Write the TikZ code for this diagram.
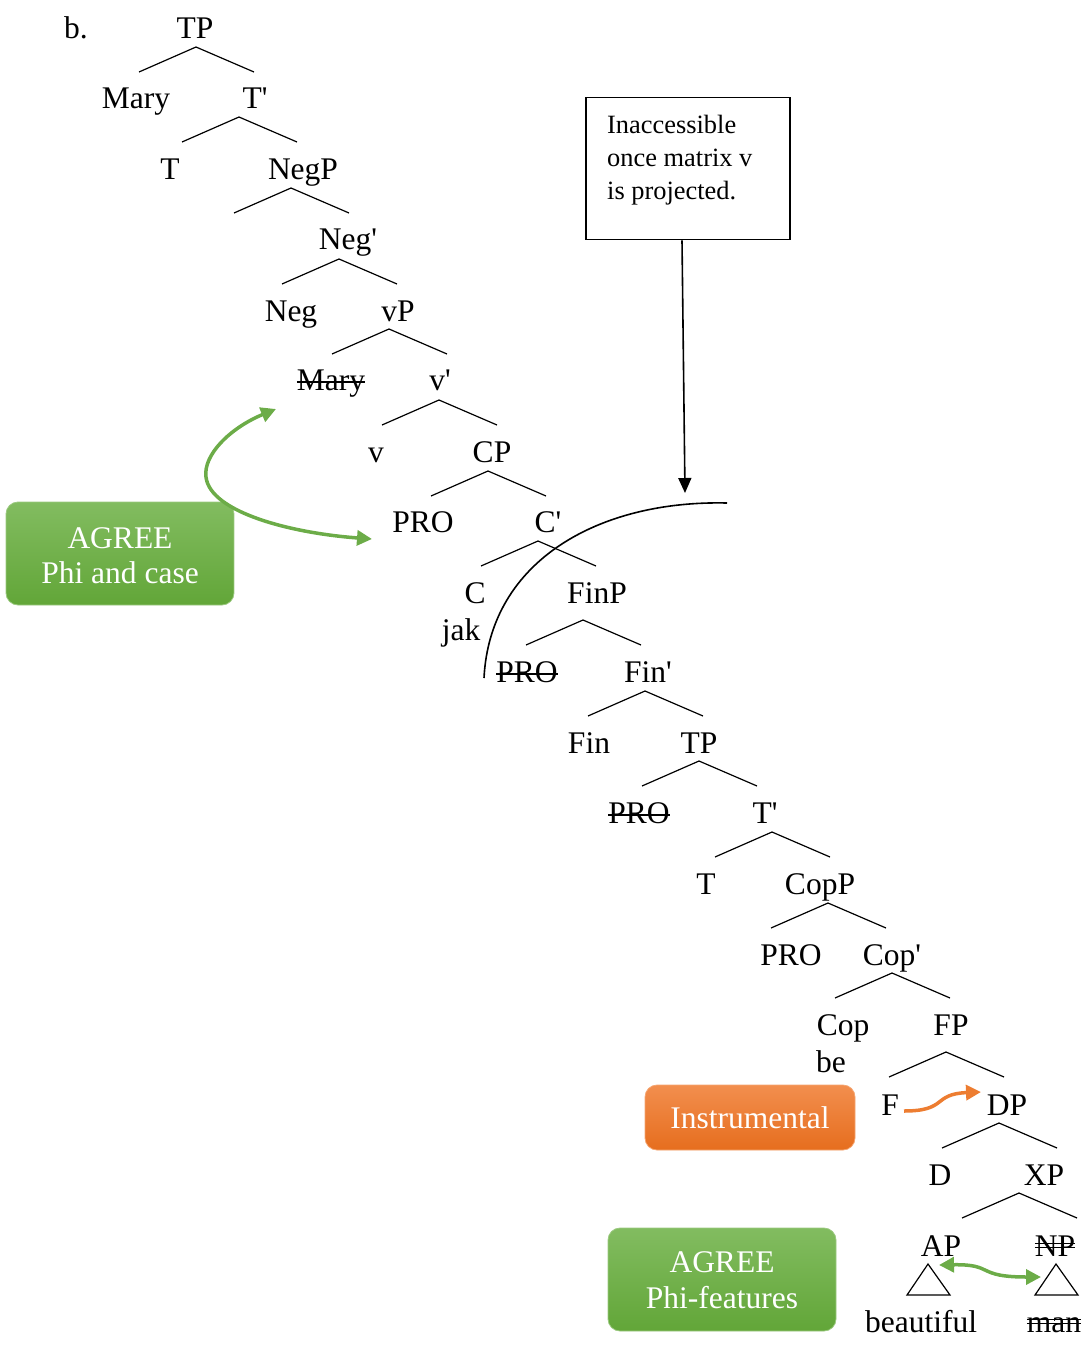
\documentclass[tikz,border=0pt]{standalone}
\usepackage{fontspec}
\setmainfont{Liberation Serif}
\usetikzlibrary{calc,arrows.meta}
\definecolor{gtop}{RGB}{130,188,96}
\definecolor{gbot}{RGB}{98,166,56}
\definecolor{gline}{RGB}{108,172,72}
\definecolor{otop}{RGB}{242,142,78}
\definecolor{obot}{RGB}{230,110,30}
\definecolor{oline}{RGB}{237,125,49}
\newcommand\qs{\textquotesingle}
\newcommand\strk[1]{\setbox0=\hbox{#1}\rlap{\rule[0.22em]{\wd0}{1.6pt}}\box0}
\newcommand\dstrk[1]{\setbox0=\hbox{#1}\rlap{\rule[0.24em]{\wd0}{1.4pt}}\rlap{\rule[0.38em]{\wd0}{1.4pt}}\box0}
\newcommand\brw[3]{\coordinate (#1) at (#2,#3); \draw[branch] ($(#1)+(-57,25)$) -- (#1) -- ($(#1)+(58,25)$);}
\begin{document}
\begin{tikzpicture}[x=1pt,y=-1pt,
  lbl/.style={anchor=base,inner sep=0pt,font=\fontsize{31.5}{36}\selectfont},
  boxtxt/.style={anchor=base,inner sep=0pt,text=white,font=\fontsize{31.5}{36}\selectfont},
  notetxt/.style={anchor=base west,inner sep=0pt,font=\fontsize{26.4}{30}\selectfont},
  branch/.style={line width=1.2pt},
  greenbox/.style={rounded corners=12pt,top color=gtop,bottom color=gbot,draw=gtop!80!white,line width=0.8pt},
  orangebox/.style={rounded corners=12pt,top color=otop,bottom color=obot,draw=otop!80!white,line width=0.8pt},
  garrow/.style={draw=gline,line width=3.5pt,{Triangle[length=15pt,width=15pt]}-{Triangle[length=15pt,width=15pt]}},
  oarrow/.style={draw=oline,line width=3.5pt,-{Triangle[length=15pt,width=15pt]}}]
\useasboundingbox (0,0) rectangle (1080,1349);

% tree labels
\node[lbl] (b) at (76,38) {b.};
\node[lbl] (tp1) at (195,38) {TP};
\node[lbl] (mary1) at (136,108) {Mary};
\node[lbl] (tbar1) at (255,108) {T\qs};
\node[lbl] (t1) at (170,179) {T};
\node[lbl] (negp) at (303,179) {NegP};
\node[lbl] (negbar) at (348,249) {Neg\qs};
\node[lbl] (neg) at (291,321) {Neg};
\node[lbl] (vp) at (398,321) {vP};
\node[lbl] (mary2) at (331,390) {\strk{Mary}};
\node[lbl] (vbar) at (440,390) {v\qs};
\node[lbl] (v) at (376,462) {v};
\node[lbl] (cp) at (492,462) {CP};
\node[lbl] (pro1) at (423,532) {PRO};
\node[lbl] (cbar) at (548,532) {C\qs};
\node[lbl] (c) at (475,603) {C};
\node[lbl] (finp) at (597,603) {FinP};
\node[lbl] (jak) at (461,640) {jak};
\node[lbl] (pro2) at (527,682) {\strk{PRO}};
\node[lbl] (finbar) at (648,682) {Fin\qs};
\node[lbl] (fin) at (589,753) {Fin};
\node[lbl] (tp2) at (699,753) {TP};
\node[lbl] (pro3) at (639,823) {\strk{PRO}};
\node[lbl] (tbar2) at (765,823) {T\qs};
\node[lbl] (t2) at (706,894) {T};
\node[lbl] (copp) at (820,894) {CopP};
\node[lbl] (pro4) at (791,965) {PRO};
\node[lbl] (copbar) at (892,965) {Cop\qs};
\node[lbl] (cop) at (843,1035) {Cop};
\node[lbl] (fp) at (951,1035) {FP};
\node[lbl] (be) at (831,1072) {be};
\node[lbl] (f) at (890,1115) {F};
\node[lbl] (dp) at (1007,1115) {DP};
\node[lbl] (d) at (940,1185) {D};
\node[lbl] (xp) at (1044,1185) {XP};
\node[lbl] (ap) at (941,1256) {AP};
\node[lbl] (np) at (1055,1256) {\dstrk{NP}};
\node[lbl] (beautiful) at (921,1332) {beautiful};
\node[lbl] (man) at (1054,1332) {\dstrk{man}};

% branches
\brw{w1}{196}{47}
\brw{w2}{239}{117}
\brw{w3}{291}{188}
\brw{w4}{339}{259}
\brw{w5}{389}{329}
\brw{w6}{439}{400}
\brw{w7}{488}{471}
\brw{w8}{538}{541}
\brw{w9}{583}{620}
\brw{w10}{645}{691}
\brw{w11}{699}{761}
\brw{w12}{772}{832}
\brw{w13}{828}{903}
\brw{w14}{892}{973}
\brw{w15}{946}{1052}
\brw{w16}{999}{1123}
\brw{w17}{1019}{1193}

% triangles
\coordinate (apt) at (928,1264);
\draw[branch] (apt) -- (907,1295) -- (950,1295) -- cycle;
\coordinate (npt) at (1056,1264);
\draw[branch] (npt) -- (1035,1295) -- (1078,1295) -- cycle;

% note box and arrow
\node[draw,line width=1.6pt,minimum width=204pt,minimum height=142pt,inner sep=0pt] (note) at (688,168.5) {};
\node[notetxt] (n1) at (607,133) {Inaccessible};
\node[notetxt] (n2) at (607,166) {once matrix v};
\node[notetxt] (n3) at (607,199) {is projected.};
\coordinate (noteend) at (685,493);
\draw[line width=1.6pt,-{Triangle[length=15pt,width=13pt]}] (note.south west -| 682,0) -- (noteend);

% boundary arc
\coordinate (arcA) at (484,678);
\coordinate (arcB) at (727,503);
\draw[line width=1.6pt] (arcA) .. controls (490,560) and (600,500) .. (arcB);

% AGREE phi and case
\node[greenbox,minimum width=228pt,minimum height=103pt,inner sep=0pt] (agree1) at (120,553.5) {};
\node[boxtxt] (agree1a) at (120,548) {AGREE};
\node[boxtxt] (agree1b) at (120,583) {Phi and case};
\coordinate (g1s) at (276,409);
\coordinate (g1e) at (372,539);
\draw[garrow] (g1s) .. controls (230,428) and (203,455) .. (206,477) .. controls (210,512) and (290,533) .. (g1e);

% Instrumental
\node[orangebox,minimum width=210pt,minimum height=65pt,inner sep=0pt] (instr) at (750,1117.5) {};
\node[boxtxt] (instrt) at (750,1128) {Instrumental};
\coordinate (o1s) at (904,1111);
\coordinate (o1e) at (981,1092);
\draw[oarrow] (o1s) .. controls (948,1111) and (932,1094) .. (o1e);

% AGREE phi-features
\node[greenbox,minimum width=228pt,minimum height=103pt,inner sep=0pt] (agree2) at (722,1279.5) {};
\node[boxtxt] (agree2a) at (722,1272) {AGREE};
\node[boxtxt] (agree2b) at (722,1308) {Phi-features};
\coordinate (g2s) at (939,1265);
\coordinate (g2e) at (1041,1277);
\draw[garrow] (g2s) .. controls (995,1264) and (975,1277) .. (g2e);
\end{tikzpicture}
\end{document}
